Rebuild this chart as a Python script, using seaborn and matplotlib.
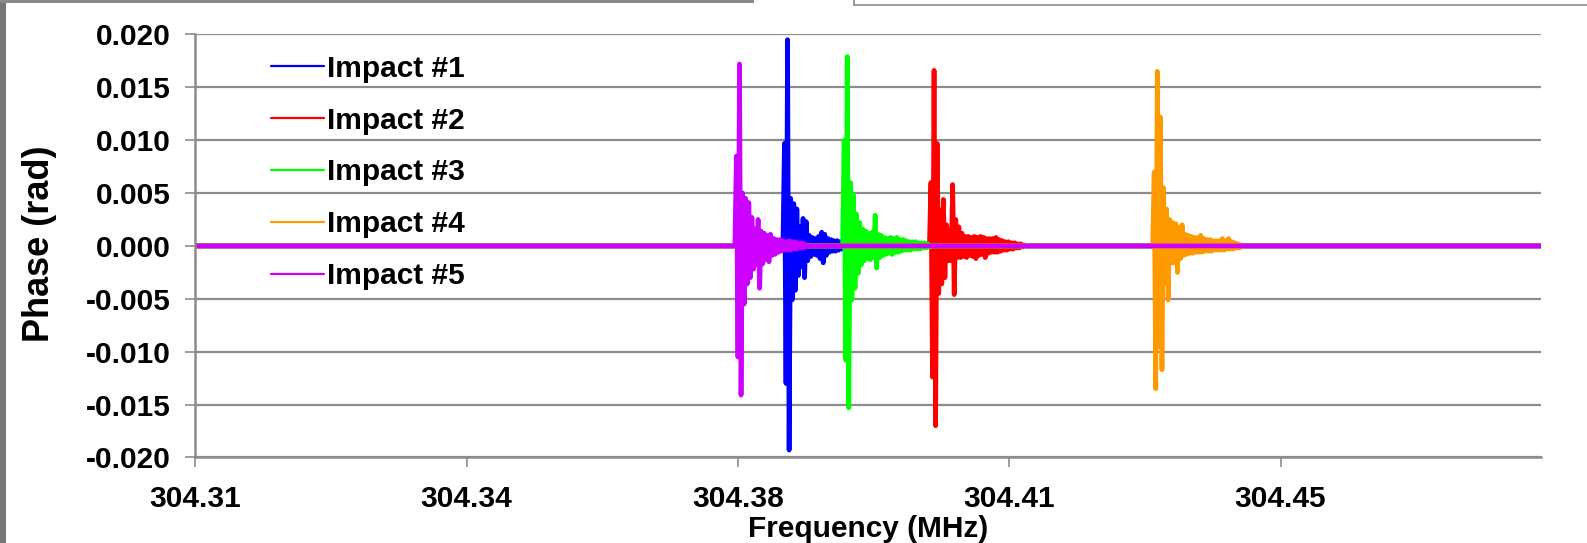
import numpy as np
import pandas as pd
import matplotlib
matplotlib.use("Agg")
import matplotlib.pyplot as plt
from matplotlib.lines import Line2D
from matplotlib.patches import Rectangle
from matplotlib.ticker import FormatStrFormatter
import seaborn as sns

# ---- data -------------------------------------------------------------
impacts = ["Impact #1", "Impact #2", "Impact #3", "Impact #4", "Impact #5"]
colors = ["#0000FF", "#FF0000", "#00FF00", "#FF9900", "#CC00FF"]

freq_min, freq_max = 304.31, 304.4836      # span of the measured traces (MHz)
freq_step = 0.0002                          # spacing of the phase samples (MHz)

x_ticks = [304.31, 304.345, 304.38, 304.415, 304.45]
x_tick_labels = ["304.31", "304.34", "304.38", "304.41", "304.45"]
y_ticks = [-0.020, -0.015, -0.010, -0.005, 0.000, 0.005, 0.010, 0.015, 0.020]

onset_1 = 304.3858
phase_1 = [0, 0.0097, -0.0130, 0.0195, -0.0193, 0.0045, -0.0051, 0.0040, -0.0042,
           0.0035, -0.0028, 0.0018, -0.0020, 0.0026, -0.0030, 0.0023, -0.0014,
           0.0010, -0.0010, 0.0008, -0.0008, 0.0007, -0.0009, 0.0009, -0.0012,
           0.0013, -0.0016, 0.0011, -0.0009, 0.0007, -0.0006, 0.0006, -0.0005,
           0.0005, -0.0005, 0.0005, -0.0004, 0.0004, -0.0003, 0.0003, 0]

onset_2 = 304.4047
phase_2 = [0, 0.0060, -0.0124, 0.0166, -0.0170, 0.0097, -0.0045, 0.0034, -0.0036,
           0.0044, -0.0030, 0.0020, -0.0014, 0.0015, -0.0014, 0.0058, -0.0046,
           0.0025, -0.0011, 0.0018, -0.0011, 0.0012, -0.0010, 0.0009, -0.0011,
           0.0009, -0.0009, 0.0008, -0.0010, 0.0009, -0.0012, 0.0008, -0.0009,
           0.0009, -0.0008, 0.0008, -0.0011, 0.0007, -0.0007, 0.0007, -0.0006,
           0.0007, -0.0006, 0.0008, -0.0006, 0.0006, -0.0005, 0.0005, -0.0004,
           0.0004, -0.0004, 0.0004, -0.0003, 0.0003, -0.0003, 0.0003, -0.0002,
           0.0002, -0.0002, 0.0002, -0.0001, 0.0001, 0]

onset_3 = 304.3935
phase_3 = [0, 0.0100, -0.0108, 0.0179, -0.0153, 0.0060, -0.0051, 0.0048, -0.0040,
           0.0030, -0.0026, 0.0022, -0.0018, 0.0016, -0.0014, 0.0014, -0.0012,
           0.0012, -0.0013, 0.0013, -0.0011, 0.0029, -0.0021, 0.0011, -0.0011,
           0.0010, -0.0009, 0.0008, -0.0008, 0.0007, -0.0007, 0.0008, -0.0008,
           0.0007, -0.0006, 0.0008, -0.0006, 0.0006, -0.0005, 0.0006, -0.0004,
           0.0005, -0.0004, 0.0004, -0.0004, 0.0004, -0.0003, 0.0004, -0.0003,
           0.0003, -0.0003, 0.0003, -0.0002, 0.0003, -0.0002, 0.0002, -0.0001, 0]

onset_4 = 304.4335
phase_4 = [0, 0.0070, -0.0135, 0.0165, -0.0095, 0.0122, -0.0117, 0.0055, -0.0035,
           0.0035, -0.0051, 0.0025, -0.0016, 0.0022, -0.0016, 0.0021, -0.0025,
           0.0017, -0.0012, 0.0020, -0.0009, 0.0011, -0.0008, 0.0010, -0.0007,
           0.0009, -0.0007, 0.0008, -0.0006, 0.0008, -0.0006, 0.0010, -0.0006,
           0.0007, -0.0005, 0.0006, -0.0005, 0.0006, -0.0005, 0.0005, -0.0004,
           0.0005, -0.0004, 0.0005, -0.0004, 0.0007, -0.0004, 0.0005, -0.0003,
           0.0007, -0.0003, 0.0004, -0.0003, 0.0003, -0.0002, 0.0002, -0.0002,
           0.0001, -0.0001, 0]

onset_5 = 304.3796
phase_5 = [0, 0.0085, -0.0105, 0.0172, -0.0141, 0.0050, -0.0055, 0.0045, -0.0036,
           0.0041, -0.0030, 0.0027, -0.0022, 0.0016, -0.0018, 0.0025, -0.0040,
           0.0014, -0.0017, 0.0012, -0.0013, 0.0010, -0.0015, 0.0011, -0.0009,
           0.0007, -0.0008, 0.0006, -0.0006, 0.0006, -0.0005, 0.0005, -0.0004,
           0.0004, -0.0004, 0.0005, -0.0004, 0.0004, -0.0003, 0.0004, -0.0003,
           0.0003, -0.0002, 0.0003, -0.0002, 0.0002, -0.0001, 0]

onsets = [onset_1, onset_2, onset_3, onset_4, onset_5]
phases = [phase_1, phase_2, phase_3, phase_4, phase_5]

# long-format table: each trace is flat at zero outside its burst
frames = []
for name, onset, vals in zip(impacts, onsets, phases):
    f = [freq_min] + [onset + freq_step * i for i in range(len(vals))] + [freq_max]
    p = [0.0] + list(vals) + [0.0]
    frames.append(pd.DataFrame({"freq": f, "phase": p, "impact": name}))
df = pd.concat(frames, ignore_index=True)

# ---- style --------------------------------------------------------------
sns.set_theme(style="white")
plt.rcParams["font.family"] = ["Liberation Sans", "DejaVu Sans"]
plt.rcParams["font.weight"] = "bold"
plt.rcParams["text.color"] = "black"
plt.rcParams["axes.labelcolor"] = "black"
plt.rcParams["lines.solid_joinstyle"] = "round"

grey = "#8c8c8c"
fs = 21.5

fig = plt.figure(figsize=(15.87, 5.43), dpi=100)
ax = fig.add_axes([0.1231, 0.1575, 0.9710 - 0.1231, 0.9367 - 0.1575])

sns.lineplot(data=df, x="freq", y="phase", hue="impact", hue_order=impacts,
             palette=colors, estimator=None, sort=False, lw=3.4,
             legend=False, ax=ax)

ax.set_xlim(freq_min, freq_max)
ax.set_ylim(-0.020, 0.020)
ax.set_xticks(x_ticks)
ax.set_xticklabels(x_tick_labels)
ax.set_yticks(y_ticks)
ax.yaxis.set_major_formatter(FormatStrFormatter("%.3f"))

ax.grid(axis="y", color=grey, lw=1.6)
ax.grid(axis="x", visible=False)
ax.set_axisbelow(True)
for side in ["top", "right"]:
    ax.spines[side].set_visible(False)
for side in ["left", "bottom"]:
    ax.spines[side].set_color(grey)
    ax.spines[side].set_linewidth(1.8)

ax.tick_params(axis="both", direction="out", length=7, width=1.2, color=grey,
               labelsize=fs, labelcolor="black")
ax.tick_params(axis="y", pad=11, left=True)
ax.tick_params(axis="x", pad=13, bottom=True)
for lab in ax.get_xticklabels() + ax.get_yticklabels():
    lab.set_fontweight("bold")

ax.set_xlabel("Frequency (MHz)", fontsize=fs, fontweight="bold")
ax.set_ylabel("Phase (rad)", fontsize=26, fontweight="bold")
ax.xaxis.set_label_coords(0.5, -0.136)
ax.yaxis.set_label_coords(-0.103, 0.505)

handles = [Line2D([0], [0], color=c, lw=1.6) for c in colors]
leg = ax.legend(handles, impacts, loc="upper left", bbox_to_anchor=(0.0565, 0.952),
                frameon=False, fontsize=fs, handlelength=1.75, handletextpad=0.1,
                labelspacing=0.80, borderpad=0, borderaxespad=0)
for t in leg.get_texts():
    t.set_fontweight("bold")
    t.set_color("black")

# window frame around the chart
fig.patches.append(Rectangle((0, 0), 0.0035, 1, transform=fig.transFigure,
                             facecolor="#767676", edgecolor="none", zorder=5))
fig.patches.append(Rectangle((0, 0.995), 0.475, 0.005, transform=fig.transFigure,
                             facecolor="#8a8a8a", edgecolor="none", zorder=5))
fig.patches.append(Rectangle((0.538, 0.990), 0.47, 0.012, transform=fig.transFigure,
                             facecolor="white", edgecolor="#8a8a8a", lw=1.2, zorder=5))

fig.savefig("out.png", dpi=100, facecolor="white")
